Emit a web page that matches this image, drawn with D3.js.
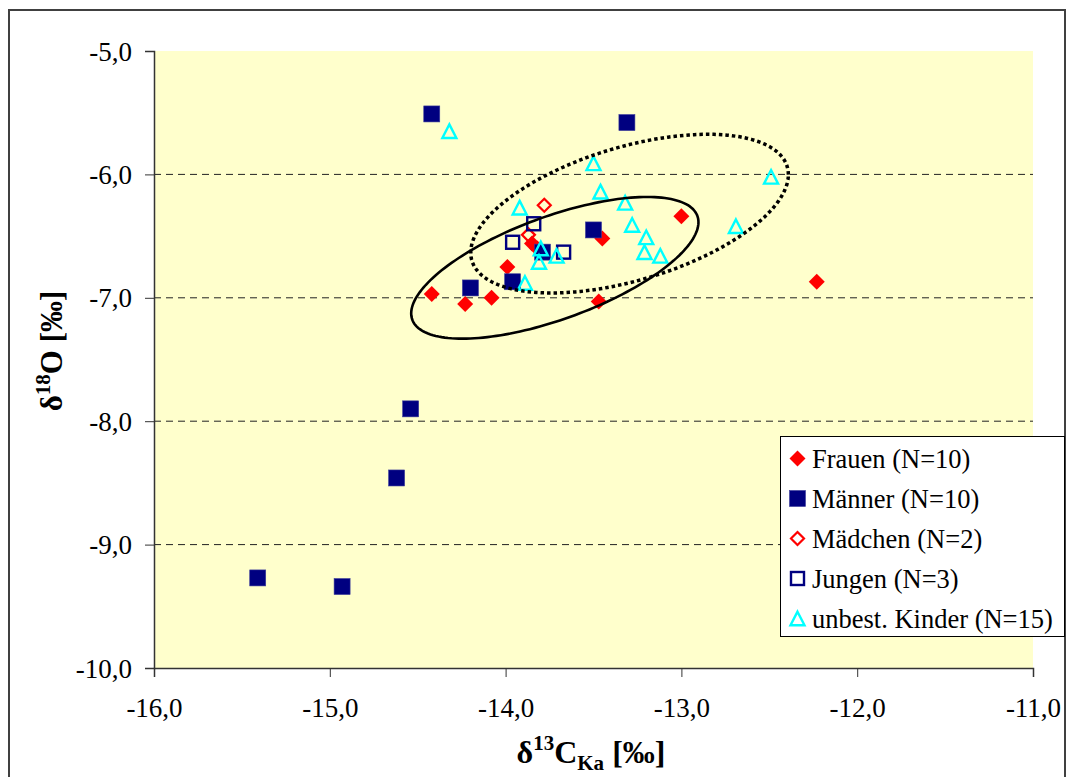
<!DOCTYPE html>
<html>
<head>
<meta charset="utf-8">
<script src="https://cdn.jsdelivr.net/npm/d3@7"></script>
<style>
  html, body { margin: 0; padding: 0; background: #ffffff; }
</style>
</head>
<body>
<svg id="chart" width="1070" height="777"></svg>
<script>
// ---- data ----
const seriesNames = ["Frauen (N=10)", "Männer (N=10)", "Mädchen (N=2)", "Jungen (N=3)", "unbest. Kinder (N=15)"];

const frauenX = [-14.42, -14.23, -14.08, -13.99, -13.85, -13.45, -13.47, -13.00, -12.23, -13.82];
const frauenY = [-6.97, -7.05, -7.00, -6.75, -6.56, -6.52, -7.03, -6.34, -6.87, -6.60];

const maennerX = [-14.42, -13.31, -14.20, -13.96, -13.50, -13.79, -14.54, -14.62, -15.41, -14.93];
const maennerY = [-5.51, -5.58, -6.92, -6.87, -6.45, -6.63, -7.90, -8.46, -9.27, -9.34];

const maedchenX = [-13.78, -13.87];
const maedchenY = [-6.25, -6.49];

const jungenX = [-13.84, -13.96, -13.67];
const jungenY = [-6.40, -6.55, -6.63];

const kinderX = [-14.32, -13.50, -12.49, -13.46, -13.92, -13.32, -13.28, -12.69, -13.20, -13.80, -13.21, -13.71, -13.12, -13.81, -13.89];
const kinderY = [-5.65, -5.91, -6.02, -6.14, -6.27, -6.23, -6.41, -6.42, -6.51, -6.60, -6.63, -6.66, -6.66, -6.71, -6.88];

const xTicks = [-16, -15, -14, -13, -12, -11];
const yTicks = [-5, -6, -7, -8, -9, -10];
const gridValues = [-6, -7, -8, -9];

// ellipses (data units): centre, variance-like shape terms
const ellipseCx = [-13.72, -13.295];
const ellipseCy = [-6.757, -6.318];
const ellipseSxx = [0.6675, 0.8162];
const ellipseSyy = [0.3297, 0.4135];
const ellipseSxy = [0.3018, 0.2855];
const ellipseDotted = [false, true];

// ---- layout ----
const FONT = "'Liberation Serif'";
const svg = d3.select("#chart");
const plot = { left: 154, right: 1033, top: 51, bottom: 668 };

const x = d3.scaleLinear().domain([-16, -11]).range([plot.left, plot.right]);
const y = d3.scaleLinear().domain([-10, -5]).range([plot.bottom, plot.top]);

const loc = d3.formatLocale({ decimal: ",", thousands: ".", grouping: [3], currency: ["", "€"], minus: "-" });
const fmt = loc.format(".1f");

// outer border
svg.append("rect").attr("x", 9).attr("y", 10).attr("width", 1056).attr("height", 790)
  .attr("fill", "#fff").attr("stroke", "#404040").attr("stroke-width", 2);

// plot background
svg.append("rect").attr("x", plot.left).attr("y", plot.top)
  .attr("width", plot.right - plot.left).attr("height", plot.bottom - plot.top)
  .attr("fill", "#FFFFCC");

// gridlines
svg.append("g").selectAll("line").data(gridValues).join("line")
  .attr("x1", plot.left).attr("x2", plot.right)
  .attr("y1", d => y(d)).attr("y2", d => y(d))
  .attr("stroke", "#222").attr("stroke-width", 1).attr("stroke-dasharray", "7,5");

// axes
const yAxis = d3.axisLeft(y).tickValues(yTicks).tickFormat(fmt).tickSize(9).tickPadding(6);
const gy = svg.append("g").attr("transform", `translate(${plot.left},0)`).call(yAxis);
gy.select(".domain").attr("stroke", "#333").attr("stroke-width", 1.5);
gy.selectAll(".tick line").attr("stroke", "#333");
gy.selectAll(".tick text").style("font-family", FONT).style("font-size", "27px").attr("fill", "#000")
  .attr("dy", "0.34em").attr("x", -22);

const xAxis = d3.axisBottom(x).tickValues(xTicks).tickFormat(fmt).tickSize(9).tickPadding(8);
const gx = svg.append("g").attr("transform", `translate(0,${plot.bottom})`).call(xAxis);
gx.select(".domain").attr("stroke", "#333").attr("stroke-width", 1.5);
gx.selectAll(".tick line").attr("stroke", "#333");
gx.selectAll(".tick text").style("font-family", FONT).style("font-size", "27px").attr("fill", "#000")
  .attr("dy", "1.2em");

// axis titles
const xt = svg.append("text").attr("x", 591).attr("y", 763).attr("text-anchor", "middle")
  .style("font-family", FONT).style("font-size", "32px").style("font-weight", "bold");
xt.append("tspan").text("δ");
xt.append("tspan").style("font-size", "21px").attr("dy", -13).text("13");
xt.append("tspan").attr("dy", 13).text("C");
xt.append("tspan").style("font-size", "21px").attr("dy", 7).text("Ka");
xt.append("tspan").attr("dy", -7).text(" [‰]");

const yt = svg.append("text").attr("transform", "translate(62,351) rotate(-90)").attr("text-anchor", "middle")
  .style("font-family", FONT).style("font-size", "31px").style("font-weight", "bold");
yt.append("tspan").text("δ");
yt.append("tspan").style("font-size", "21px").attr("dy", -12).text("18");
yt.append("tspan").attr("dy", 12).text("O [‰]");

// markers
const S = 8;
function drawMarker(g, type, cx, cy) {
  if (type === 0) {
    g.append("path").attr("d", `M${cx},${cy - S}L${cx + S},${cy}L${cx},${cy + S}L${cx - S},${cy}Z`)
      .attr("fill", "#FF0000");
  } else if (type === 1) {
    g.append("rect").attr("x", cx - S).attr("y", cy - S).attr("width", 2 * S).attr("height", 2 * S)
      .attr("fill", "#000080").attr("stroke", "#3a3a9a").attr("stroke-width", 0.6);
  } else if (type === 2) {
    const s = 6.5;
    g.append("path").attr("d", `M${cx},${cy - s}L${cx + s},${cy}L${cx},${cy + s}L${cx - s},${cy}Z`)
      .attr("fill", "none").attr("stroke", "#FF0000").attr("stroke-width", 2.2);
  } else if (type === 3) {
    const s = 6.5;
    g.append("rect").attr("x", cx - s).attr("y", cy - s).attr("width", 2 * s).attr("height", 2 * s)
      .attr("fill", "none").attr("stroke", "#000080").attr("stroke-width", 2.4);
  } else {
    const w = 7, h = 6.8;
    g.append("path").attr("d", `M${cx},${cy - h}L${cx + w},${cy + h}L${cx - w},${cy + h}Z`)
      .attr("fill", "none").attr("stroke", "#00FFFF").attr("stroke-width", 2.4).attr("stroke-linejoin", "miter");
  }
}

const seriesX = [frauenX, maennerX, maedchenX, jungenX, kinderX];
const seriesY = [frauenY, maennerY, maedchenY, jungenY, kinderY];
const gPts = svg.append("g");
seriesX.forEach((xs, si) => {
  xs.forEach((xv, i) => drawMarker(gPts, si, x(xv), y(seriesY[si][i])));
});

// ellipses
const gEl = svg.append("g");
ellipseCx.forEach((cx, k) => {
  const l11 = Math.sqrt(ellipseSxx[k]);
  const l21 = ellipseSxy[k] / l11;
  const l22 = Math.sqrt(ellipseSyy[k] - l21 * l21);
  const pts = d3.range(0, 361, 2).map(a => {
    const t = a * Math.PI / 180;
    return [x(cx + l11 * Math.cos(t)), y(ellipseCy[k] + l21 * Math.cos(t) + l22 * Math.sin(t))];
  });
  gEl.append("path").attr("d", d3.line()(pts) + "Z")
    .attr("fill", "none").attr("stroke", "#000")
    .attr("stroke-width", ellipseDotted[k] ? 3.5 : 2.6)
    .attr("stroke-dasharray", ellipseDotted[k] ? "3.5,3" : null);
});

// legend
const lg = svg.append("g");
lg.append("rect").attr("x", 780.5).attr("y", 436.5).attr("width", 284).attr("height", 200)
  .attr("fill", "#fff").attr("stroke", "#000").attr("stroke-width", 1);
seriesNames.forEach((name, i) => {
  const cy = 458.5 + i * 40;
  drawMarker(lg, i, 797.5, cy);
  lg.append("text").attr("x", 812).attr("y", cy).attr("dy", "0.35em")
    .style("font-family", FONT).style("font-size", "26.5px").attr("fill", "#000").text(name);
});
</script>
</body>
</html>
